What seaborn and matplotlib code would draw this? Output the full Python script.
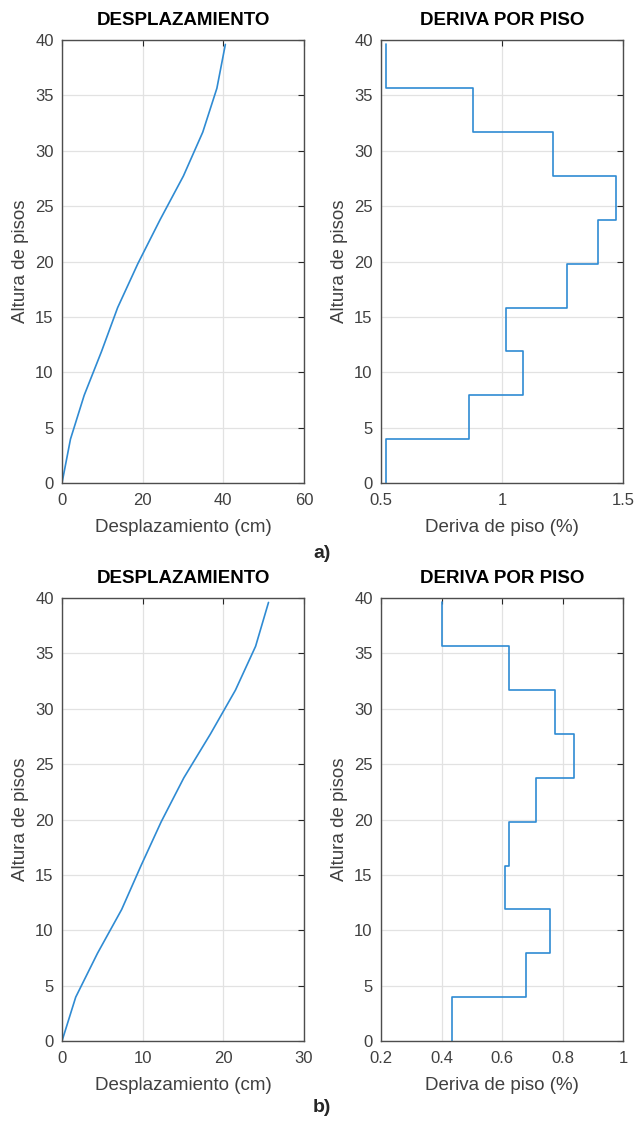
import numpy as np
import pandas as pd
import matplotlib
matplotlib.use('Agg')
import matplotlib.pyplot as plt
import seaborn as sns

# Alturas de piso (m)
alturas = [0, 3.96, 7.92, 11.88, 15.84, 19.8, 23.76, 27.72, 31.68, 35.64, 39.6]

# Caso a)
desp_a = [0, 2.1, 5.5, 9.8, 13.8, 18.8, 24.3, 30.1, 34.9, 38.4, 40.5]
deriva_a = [0.52, 0.865, 1.087, 1.018, 1.267, 1.395, 1.473, 1.21, 0.879, 0.52]

# Caso b)
desp_b = [0, 1.7, 4.4, 7.4, 9.8, 12.3, 15.1, 18.4, 21.5, 24.0, 25.6]
deriva_b = [0.435, 0.68, 0.758, 0.61, 0.624, 0.713, 0.839, 0.776, 0.624, 0.40]

sns.set_style('white')
plt.rcParams['font.family'] = ['Liberation Sans', 'DejaVu Sans']

color_linea = '#2f8bd3'
gris = '#404040'

fig = plt.figure(figsize=(6.36, 11.28), dpi=100)

W, H = 636, 1128
def caja(x0, x1, y0, y1):
    return [x0 / W, 1 - y1 / H, (x1 - x0) / W, (y1 - y0) / H]

ax_a1 = fig.add_axes(caja(62, 304, 40, 483))
ax_a2 = fig.add_axes(caja(381, 623, 40, 483))
ax_b1 = fig.add_axes(caja(62, 304, 598, 1041))
ax_b2 = fig.add_axes(caja(381, 623, 598, 1041))


def estilo(ax, titulo, xlabel, xlim, xticks):
    ax.set_xlim(xlim)
    ax.set_ylim(0, 40)
    ax.set_xticks(xticks)
    ax.set_yticks(range(0, 41, 5))
    ax.set_xticklabels([('%g' % t) for t in xticks])
    ax.grid(True, color='#e2e2e2', linewidth=0.9)
    ax.set_axisbelow(True)
    ax.tick_params(direction='in', top=True, right=True, length=4, width=0.8,
                   color='#262626', labelcolor=gris, labelsize=12)
    ax.tick_params(axis='x', pad=7)
    ax.tick_params(axis='y', pad=6)
    for s in ax.spines.values():
        s.set_color('#4d4d4d')
        s.set_linewidth(1.0)
    ax.set_title(titulo, fontsize=13.5, fontweight='bold', color='black', pad=11)
    ax.set_xlabel(xlabel, fontsize=13.5, color=gris, labelpad=8)
    ax.set_ylabel('Altura de pisos', fontsize=13.5, color=gris, labelpad=4)


def escalones(deriva):
    x = np.repeat(deriva, 2)
    y = np.column_stack([alturas[:-1], alturas[1:]]).ravel()
    return pd.DataFrame({'deriva': x, 'altura': y})


for ax1, ax2, desp, deriva, lim1, tk1, lim2, tk2 in [
        (ax_a1, ax_a2, desp_a, deriva_a, (0, 60), [0, 20, 40, 60], (0.5, 1.5), [0.5, 1, 1.5]),
        (ax_b1, ax_b2, desp_b, deriva_b, (0, 30), [0, 10, 20, 30], (0.2, 1.0), [0.2, 0.4, 0.6, 0.8, 1])]:
    df_d = pd.DataFrame({'desp': desp, 'altura': alturas})
    sns.lineplot(data=df_d, x='desp', y='altura', sort=False, estimator=None,
                 color=color_linea, linewidth=1.2, ax=ax1)
    estilo(ax1, 'DESPLAZAMIENTO', 'Desplazamiento (cm)', lim1, tk1)

    df_s = escalones(deriva)
    sns.lineplot(data=df_s, x='deriva', y='altura', sort=False, estimator=None,
                 color=color_linea, linewidth=1.2, ax=ax2)
    estilo(ax2, 'DERIVA POR PISO', 'Deriva de piso (%)', lim2, tk2)

fig.text(322 / W, 1 - 553 / H, 'a)', fontsize=14, fontweight='bold', ha='center', va='center')
fig.text(322 / W, 1 - 1108 / H, 'b)', fontsize=14, fontweight='bold', ha='center', va='center')

fig.savefig('out.png', dpi=100)
